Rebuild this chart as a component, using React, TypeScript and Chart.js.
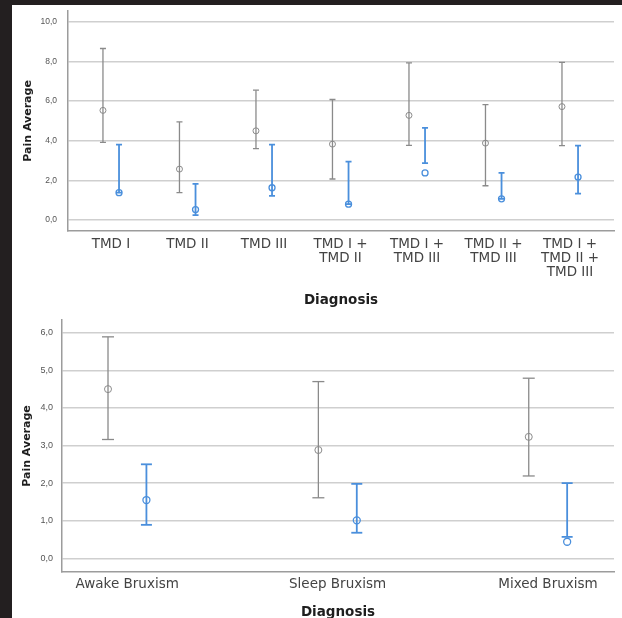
import React, { useEffect, useRef } from 'react';
import { Chart, registerables } from 'chart.js';

Chart.register(...registerables);

// ---------- data ----------
const topCategories: string[][] = [
  ['TMD I'],
  ['TMD II'],
  ['TMD III'],
  ['TMD I +', 'TMD II'],
  ['TMD I +', 'TMD III'],
  ['TMD II +', 'TMD III'],
  ['TMD I +', 'TMD II +', 'TMD III'],
];
const topYTicks = [0, 2, 4, 6, 8, 10];
const topGrayMean = [5.53, 2.57, 4.5, 3.83, 5.28, 3.88, 5.72];
const topGrayLow = [3.92, 1.38, 3.6, 2.07, 3.77, 1.73, 3.75];
const topGrayHigh = [8.65, 4.95, 6.55, 6.08, 7.92, 5.82, 7.95];
const topBlueMean = [1.38, 0.53, 1.63, 0.8, 2.38, 1.07, 2.17];
const topBlueLow = [1.38, 0.25, 1.22, 0.8, 2.87, 1.07, 1.33];
const topBlueHigh = [3.8, 1.83, 3.8, 2.95, 4.65, 2.38, 3.75];

const bottomCategories: string[] = ['Awake Bruxism', 'Sleep Bruxism', 'Mixed Bruxism'];
const bottomYTicks = [0, 1, 2, 3, 4, 5, 6];
const bottomGrayMean = [4.5, 2.88, 3.23];
const bottomGrayLow = [3.16, 1.61, 2.19];
const bottomGrayHigh = [5.89, 4.7, 4.79];
const bottomBlueMean = [1.55, 1.01, 0.44];
const bottomBlueLow = [0.89, 0.68, 0.57];
const bottomBlueHigh = [2.5, 1.98, 2.0];

const xTitle = 'Diagnosis';
const yTitle = 'Pain Average';

// ---------- styles ----------
const GRAY = '#8a8a8a';
const BLUE = '#4a8fdc';
const GRID = '#cfcfcf';
const AXIS = '#9c9c9c';
const SANS = "'DejaVu Sans', sans-serif";
const ARIAL = "'Liberation Sans', Arial, sans-serif";

type Series = {
  mean: number[];
  low: number[];
  high: number[];
  color: string;
  offset: number;
  width: number;
  cap: number;
  radius: number;
  circleWidth: number;
};

function buildDatasets(series: Series[]) {
  const ds: any[] = [];
  series.forEach((s) => {
    s.mean.forEach((_, i) => {
      ds.push({
        type: 'scatter',
        showLine: true,
        data: [
          { x: i + s.offset, y: s.low[i] },
          { x: i + s.offset, y: s.high[i] },
        ],
        borderColor: s.color,
        borderWidth: s.width,
        pointStyle: 'line',
        pointRadius: s.cap,
        pointBorderColor: s.color,
        pointBorderWidth: s.width,
        pointBackgroundColor: s.color,
        fill: false,
        tension: 0,
      });
    });
    ds.push({
      type: 'scatter',
      showLine: false,
      data: s.mean.map((m, i) => ({ x: i + s.offset, y: m })),
      pointStyle: 'circle',
      pointRadius: s.radius,
      pointBorderColor: s.color,
      pointBorderWidth: s.circleWidth,
      pointBackgroundColor: 'rgba(255,255,255,0)',
    });
  });
  return ds;
}

type Cfg = {
  labels: (string | string[])[];
  yTicks: number[];
  xMin: number;
  xMax: number;
  yMin: number;
  yMax: number;
  padTop: number;
  yAxisWidth: number;
  xAxisHeight: number;
  xTickPad: number;
  xTickLineHeight: number;
  xTitlePad: number;
  yTickPad: number;
  yTickSize: number;
  yTitlePad: number;
};

function makeOptions(c: Cfg): any {
  return {
    responsive: false,
    animation: false,
    devicePixelRatio: 1,
    events: [],
    layout: { padding: { top: c.padTop, right: 8, left: 0, bottom: 0 } },
    plugins: { legend: { display: false }, tooltip: { enabled: false } },
    scales: {
      x: {
        type: 'linear',
        min: c.xMin,
        max: c.xMax,
        afterBuildTicks: (scale: any) => {
          scale.ticks = c.labels.map((_, i) => ({ value: i }));
        },
        afterFit: (scale: any) => {
          scale.height = c.xAxisHeight;
          scale.paddingLeft = 0;
          scale.paddingRight = 0;
        },
        grid: { display: false, drawTicks: false },
        border: { display: true, color: AXIS, width: 1.5 },
        ticks: {
          autoSkip: false,
          maxRotation: 0,
          minRotation: 0,
          padding: c.xTickPad,
          color: '#444',
          font: { family: SANS, size: 13.5, lineHeight: c.xTickLineHeight },
          callback: (v: number) => c.labels[Math.round(v)] ?? '',
        },
        title: {
          display: true,
          text: xTitle,
          color: '#1e1e1e',
          font: { family: SANS, size: 13.5, weight: 'bold', lineHeight: 1.2 },
          padding: { top: 0, bottom: c.xTitlePad },
        },
      },
      y: {
        type: 'linear',
        min: c.yMin,
        max: c.yMax,
        afterBuildTicks: (scale: any) => {
          scale.ticks = c.yTicks.map((v) => ({ value: v }));
        },
        afterFit: (scale: any) => {
          scale.width = c.yAxisWidth;
          scale.paddingTop = 0;
          scale.paddingBottom = 0;
        },
        grid: { display: true, drawTicks: false, color: GRID, lineWidth: 1.5 },
        border: { display: true, color: AXIS, width: 1.5 },
        ticks: {
          padding: c.yTickPad,
          color: '#555',
          font: { family: ARIAL, size: c.yTickSize },
          callback: (v: number) => v.toFixed(1).replace('.', ','),
        },
        title: {
          display: true,
          text: yTitle,
          color: '#1e1e1e',
          font: { family: SANS, size: 11, weight: 'bold', lineHeight: 1.2 },
          padding: { top: c.yTitlePad, bottom: 0 },
        },
      },
    },
  };
}

export default function App() {
  const topRef = useRef<HTMLCanvasElement | null>(null);
  const botRef = useRef<HTMLCanvasElement | null>(null);

  useEffect(() => {
    const topChart = new Chart(topRef.current as HTMLCanvasElement, {
      type: 'scatter',
      data: {
        datasets: buildDatasets([
          { mean: topGrayMean, low: topGrayLow, high: topGrayHigh, color: GRAY, offset: -0.105, width: 1.3, cap: 3, radius: 3, circleWidth: 1 },
          { mean: topBlueMean, low: topBlueLow, high: topBlueHigh, color: BLUE, offset: 0.105, width: 1.8, cap: 3, radius: 3, circleWidth: 1.3 },
        ]),
      },
      options: makeOptions({
        labels: topCategories,
        yTicks: topYTicks,
        xMin: -0.562,
        xMax: 6.575,
        yMin: -0.55,
        yMax: 10.55,
        padTop: 3,
        yAxisWidth: 56,
        xAxisHeight: 79,
        xTickPad: 6,
        xTickLineHeight: 1.04,
        xTitlePad: 1,
        yTickPad: 11,
        yTickSize: 8.5,
        yTitlePad: 9.4,
      }),
    });

    const botChart = new Chart(botRef.current as HTMLCanvasElement, {
      type: 'scatter',
      data: {
        datasets: buildDatasets([
          { mean: bottomGrayMean, low: bottomGrayLow, high: bottomGrayHigh, color: GRAY, offset: -0.0913, width: 1.3, cap: 6, radius: 3.5, circleWidth: 1 },
          { mean: bottomBlueMean, low: bottomBlueLow, high: bottomBlueHigh, color: BLUE, offset: 0.0913, width: 1.8, cap: 5.5, radius: 3.5, circleWidth: 1.3 },
        ]),
      },
      options: makeOptions({
        labels: bottomCategories,
        yTicks: bottomYTicks,
        xMin: -0.31,
        xMax: 2.314,
        yMin: -0.364,
        yMax: 6.338,
        padTop: 10,
        yAxisWidth: 50,
        xAxisHeight: 58,
        xTickPad: 4,
        xTickLineHeight: 1.2,
        xTitlePad: 9,
        yTickPad: 9,
        yTickSize: 9,
        yTitlePad: 8.9,
      }),
    });

    return () => {
      topChart.destroy();
      botChart.destroy();
    };
  }, []);

  return (
    <div
      style={{
        position: 'fixed',
        left: 0,
        top: 0,
        width: 622,
        height: 618,
        background: '#231f20',
        overflow: 'hidden',
      }}
    >
      <div style={{ position: 'absolute', left: 12, top: 5, width: 610, height: 613, background: '#ffffff' }} />
      <canvas
        ref={topRef}
        width={610}
        height={305}
        style={{ position: 'absolute', left: 12, top: 5, width: 610, height: 305 }}
      />
      <canvas
        ref={botRef}
        width={610}
        height={320}
        style={{ position: 'absolute', left: 12, top: 310, width: 610, height: 320 }}
      />
    </div>
  );
}
